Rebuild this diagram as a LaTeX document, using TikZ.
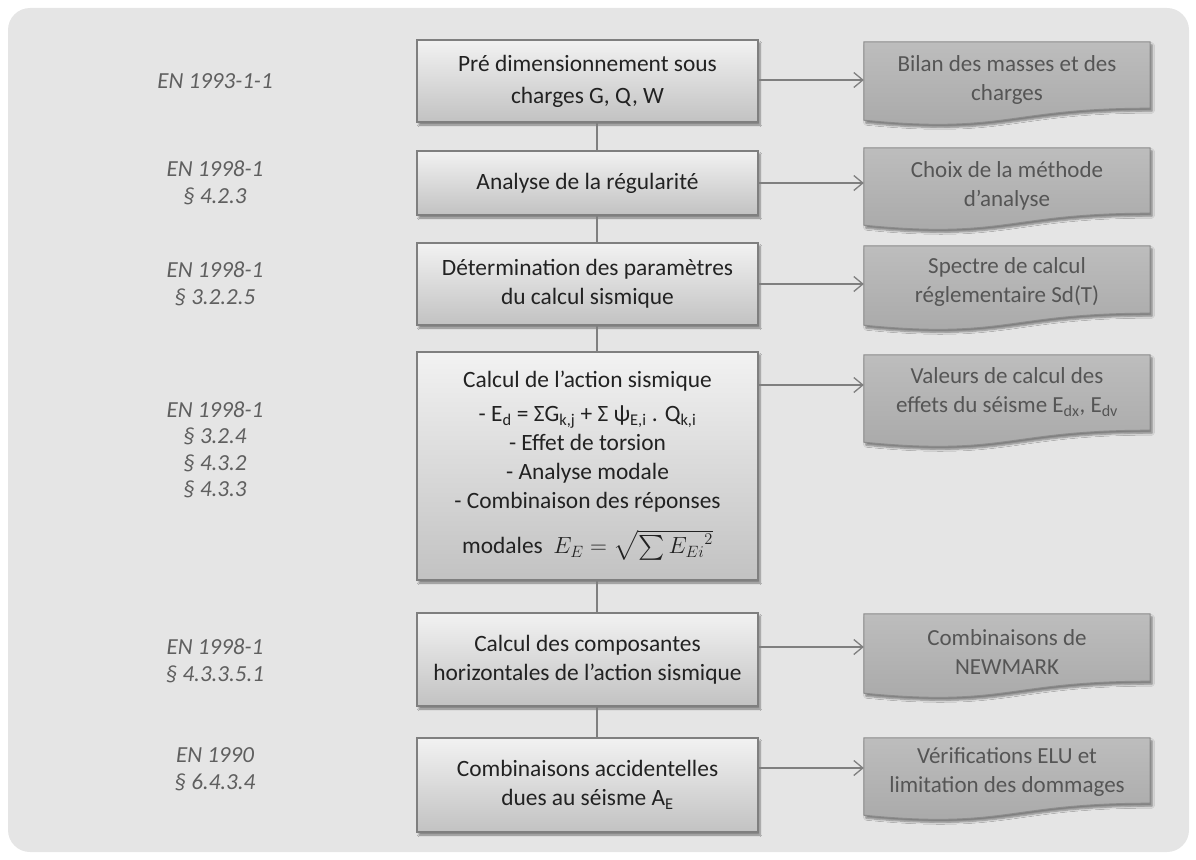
\RequirePackage{fix-cm}
\documentclass[tikz,border=0pt]{standalone}
\usepackage{exscale}
\usepackage{fontspec}
\setmainfont{Carlito}
\usetikzlibrary{arrows.meta,shadows.blur,calc}
\definecolor{bgc}{HTML}{E5E5E5}
\definecolor{maintxt}{HTML}{222222}
\definecolor{reftxt}{HTML}{5F5F5F}
\definecolor{doctxt}{HTML}{555555}
\definecolor{boxline}{HTML}{7F7F7F}
\definecolor{docline}{HTML}{8C8C8C}
\definecolor{connc}{HTML}{7F7F7F}
\definecolor{mtop}{HTML}{F2F2F2}
\definecolor{mbot}{HTML}{C2C2C2}
\definecolor{dtop}{HTML}{BDBDBD}
\definecolor{dbot}{HTML}{A8A8A8}
\newcommand{\maintext}{\fontsize{23.4}{29}\selectfont}
\newcommand{\doctextfont}{\fontsize{23}{29}\selectfont}
\newcommand{\reftext}{\fontsize{23}{26.5}\selectfont\itshape}
\begin{document}
\begin{tikzpicture}[x=1pt,y=-1pt,
  mainbox/.style={draw=boxline, line width=1.2pt, top color=mtop, bottom color=mbot,
    blur shadow={shadow xshift=2pt, shadow yshift=-3pt, shadow blur steps=6, shadow opacity=45},
    minimum width=341pt, align=center, font=\maintext, text=maintxt, inner sep=3pt},
  docanchor/.style={minimum width=286pt, inner sep=0pt, draw=none},
  docshape/.style={draw=docline, line width=1pt, top color=dtop, bottom color=dbot,
    blur shadow={shadow xshift=2pt, shadow yshift=-3pt, shadow blur steps=6, shadow opacity=45}},
  doctext/.style={align=center, font=\doctextfont, text=doctxt, inner sep=0pt},
  reflabel/.style={align=center, font=\reftext, text=reftxt},
  conn/.style={draw=connc, line width=1.3pt},
  arr/.style={draw=connc, line width=1.3pt, -{Straight Barb[length=9pt,width=15pt,line width=1.3pt]}}
]
\useasboundingbox (0,0) rectangle (1196,859);
\fill[bgc, rounded corners=22pt] (8,8) rectangle (1189,852);

% left references
\node[reflabel] (l1) at (215,81) {EN 1993-1-1};
\node[reflabel] (l2) at (215,183) {EN 1998-1\\§ 4.2.3};
\node[reflabel] (l3) at (215,284) {EN 1998-1\\§ 3.2.2.5};
\node[reflabel] (l4) at (215,450) {EN 1998-1\\§ 3.2.4\\§ 4.3.2\\§ 4.3.3};
\node[reflabel] (l5) at (215,661) {EN 1998-1\\§ 4.3.3.5.1};
\node[reflabel] (l6) at (215,769) {EN 1990\\§ 6.4.3.4};

% trunk
\coordinate (trunk) at (597,0);

% main boxes
\node[mainbox, minimum height=82pt] (b1) at (587.5,81) {Pré dimensionnement sous\\[3pt]charges G, Q, W};
\node[mainbox, minimum height=64pt] (b2) at (587.5,183) {Analyse de la régularité};
\node[mainbox, minimum height=82pt] (b3) at (587.5,284) {Détermination des paramètres\\du calcul sismique};
\node[mainbox, minimum height=228pt] (b4) at (587.5,466) {Calcul de l’action sismique\\[5pt]
- E\textsubscript{d} = ΣG\textsubscript{k,j} + Σ ψ\textsubscript{E,i} . Q\textsubscript{k,i}\\
- Effet de torsion\\
- Analyse modale\\
- Combinaison des réponses\\[16pt]
modales\ \ $E_E=\sqrt{\textstyle\sum {E_{Ei}}^{2}}$};
\node[mainbox, minimum height=93pt] (b5) at (587.5,659.5) {Calcul des composantes\\horizontales de l’action sismique};
\node[mainbox, minimum height=94pt] (b6) at (587.5,785) {Combinaisons accidentelles\\dues au séisme A\textsubscript{E}};

% vertical connectors
\draw[conn] (b1.south -| trunk) -- (b2.north -| trunk);
\draw[conn] (b2.south -| trunk) -- (b3.north -| trunk);
\draw[conn] (b3.south -| trunk) -- (b4.north -| trunk);
\draw[conn] (b4.south -| trunk) -- (b5.north -| trunk);
\draw[conn] (b5.south -| trunk) -- (b6.north -| trunk);

% document boxes
\node[docanchor, minimum height=66pt] (r1) at (1007,75) {};
\node[docanchor, minimum height=65pt] (r2) at (1007,180.5) {};
\node[docanchor, minimum height=67pt] (r3) at (1007,279.5) {};
\node[docanchor, minimum height=75pt] (r4) at (1007,392.5) {};
\node[docanchor, minimum height=67pt] (r5) at (1007,647.5) {};
\node[docanchor, minimum height=65pt] (r6) at (1007,770.5) {};
\foreach \r in {r1,r2,r3,r4,r5,r6}{
  \path[docshape] (\r.north west) -- (\r.north east) -- (\r.south east)
    .. controls (\r.south) and ([yshift=-26pt]\r.south) .. ([yshift=-12pt]\r.south west) -- cycle;
}
\node[doctext] (r1t) at (1007,80) {Bilan des masses et des\\charges};
\node[doctext] (r2t) at (1007,186) {Choix de la méthode\\d’analyse};
\node[doctext] (r3t) at (1007,282) {Spectre de calcul\\réglementaire Sd(T)};
\node[doctext] (r4t) at (1007,392) {Valeurs de calcul des\\effets du séisme E\textsubscript{dx}, E\textsubscript{dv}};
\node[doctext] (r5t) at (1007,652) {Combinaisons de\\NEWMARK};
\node[doctext] (r6t) at (1007,772) {Vérifications ELU et\\limitation des dommages};

% arrows
\draw[arr] ([yshift=1pt]b1.east) coordinate (a1) -- (a1 -| r1.west);
\draw[arr] (b2.east) coordinate (a2) -- (a2 -| r2.west);
\draw[arr] (b3.east) coordinate (a3) -- (a3 -| r3.west);
\draw[arr] ([yshift=81pt]b4.east) coordinate (a4) -- (a4 -| r4.west);
\draw[arr] ([yshift=12.5pt]b5.east) coordinate (a5) -- (a5 -| r5.west);
\draw[arr] ([yshift=17pt]b6.east) coordinate (a6) -- (a6 -| r6.west);
\end{tikzpicture}
\end{document}
